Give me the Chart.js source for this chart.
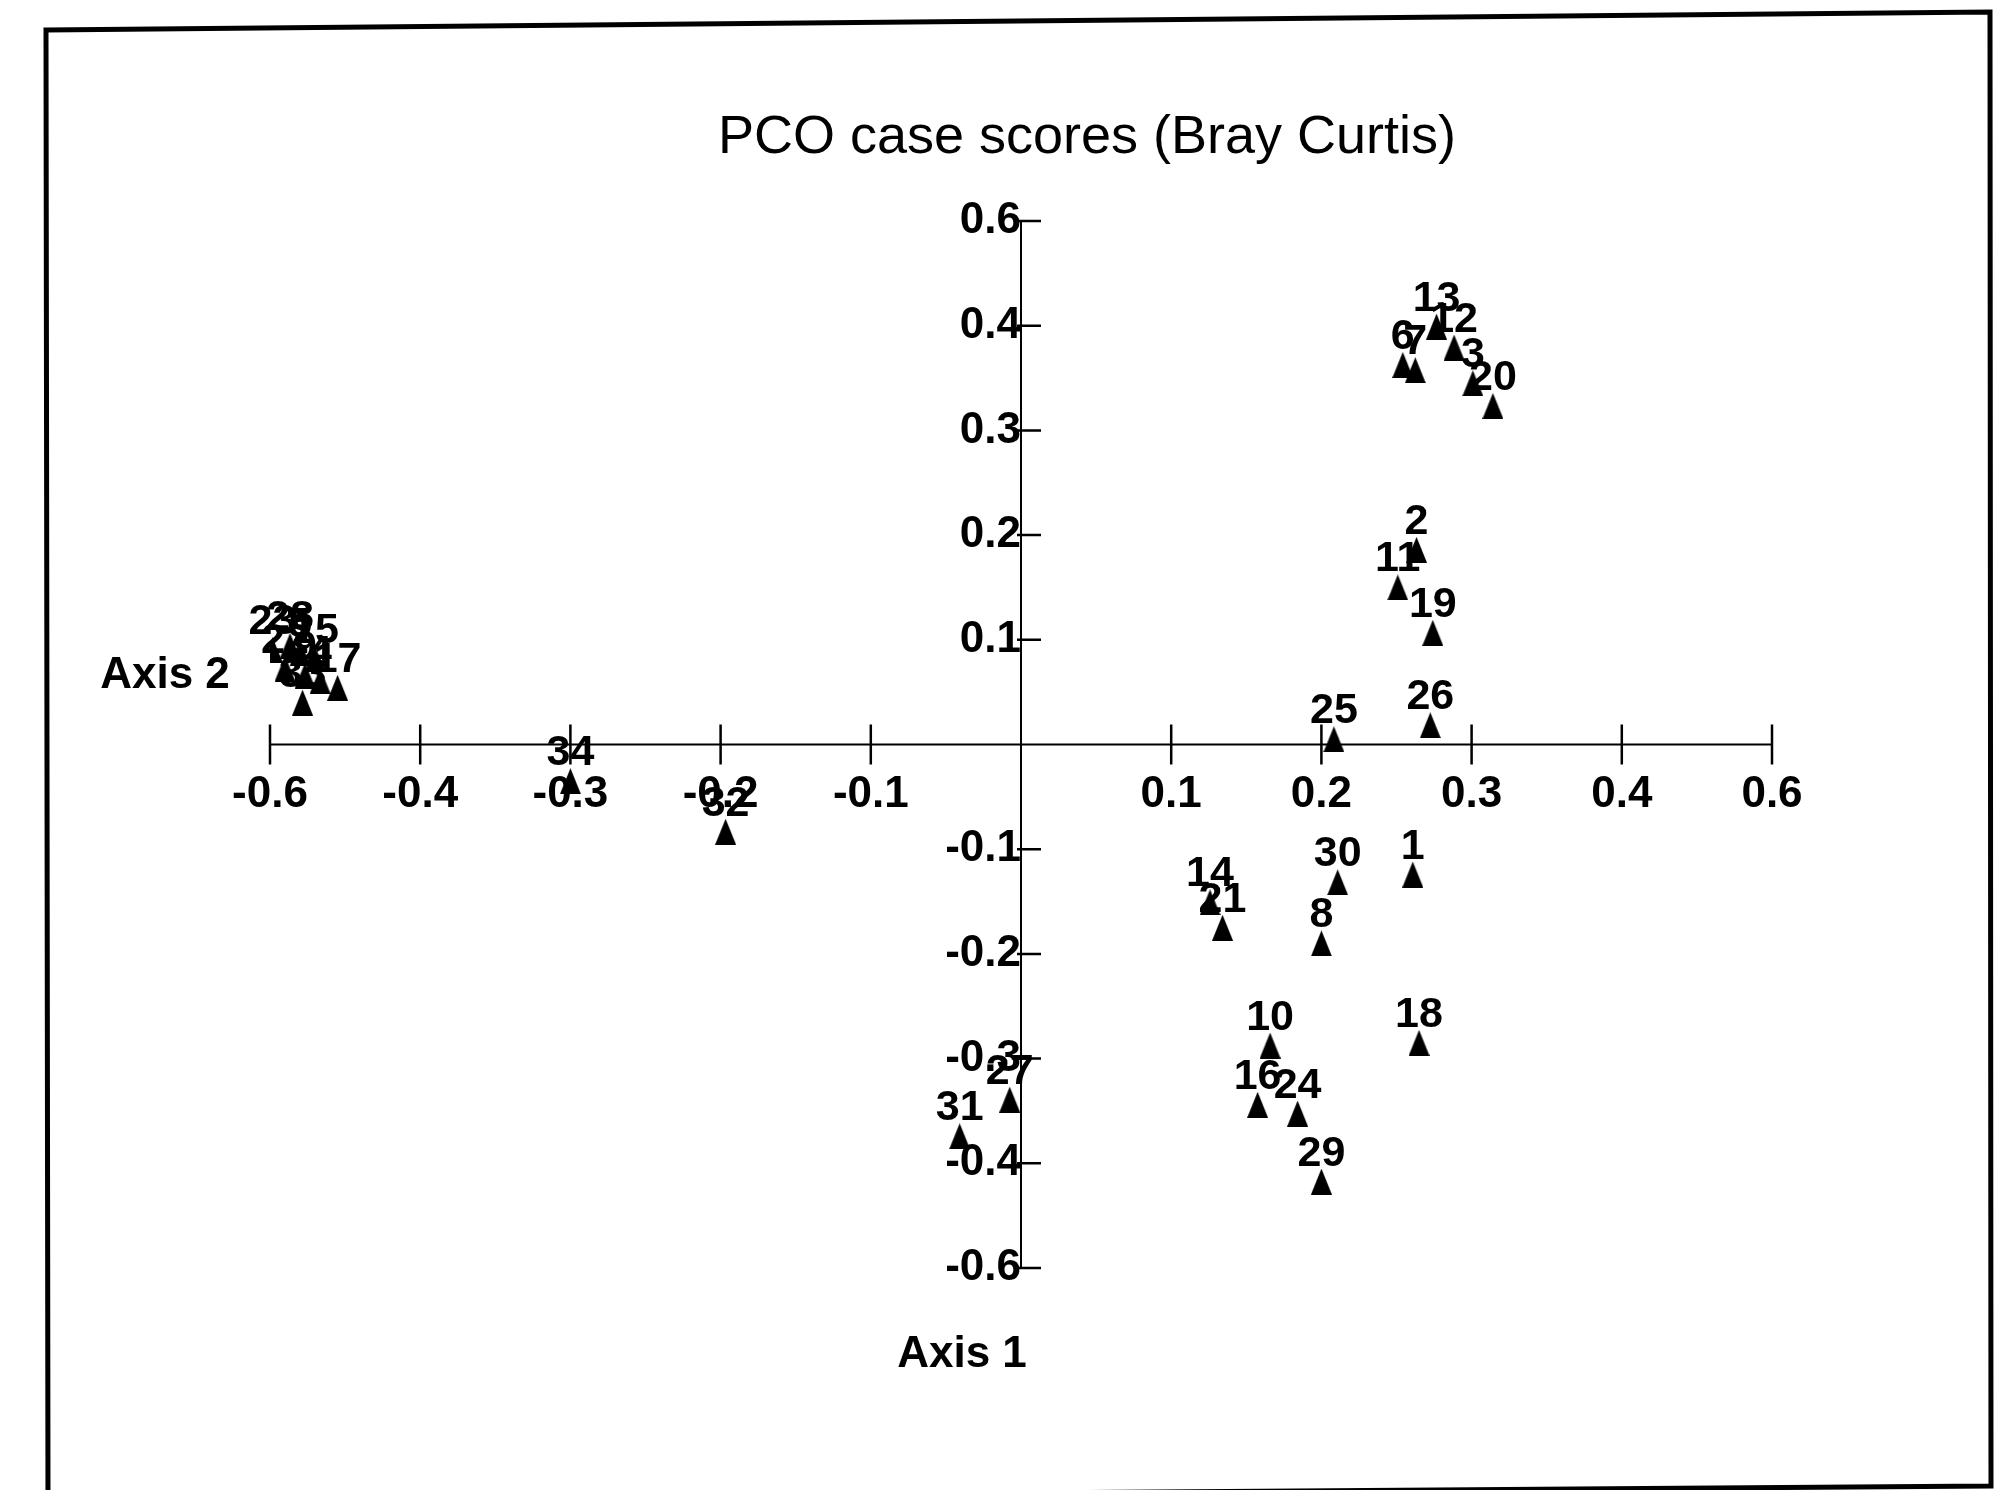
<!DOCTYPE html>
<html>
<head>
<meta charset="utf-8">
<title>PCO case scores (Bray Curtis)</title>
<script src="https://cdn.jsdelivr.net/npm/chart.js@4.4.1/dist/chart.umd.min.js"></script>
<style>
  html, body { margin: 0; padding: 0; background: #fff; }
  #wrap { width: 1999px; height: 1490px; }
</style>
</head>
<body>
<div id="wrap"><canvas id="pco" width="1999" height="1490"></canvas></div>
<script>
// case labels and their scores
const caseIds = ['6','7','13','12','3','20','2','11','19','26','25','14','21','30','1','8','10','18','16','24','29','27','31','34','32','23','28','5','15','22','9','4','33','17'];
const axis1Scores = [0.305,0.315,0.332,0.346,0.361,0.377,0.316,0.301,0.329,0.327,0.250,0.151,0.161,0.253,0.313,0.240,0.199,0.318,0.189,0.221,0.240,-0.009,-0.049,-0.360,-0.236,-0.598,-0.584,-0.576,-0.564,-0.588,-0.572,-0.560,-0.574,-0.546];
const axis2Scores = [0.435,0.429,0.479,0.455,0.414,0.388,0.223,0.180,0.128,0.022,0.006,-0.181,-0.210,-0.158,-0.149,-0.228,-0.345,-0.342,-0.413,-0.423,-0.501,-0.407,-0.449,-0.042,-0.100,0.108,0.113,0.105,0.098,0.087,0.079,0.073,0.048,0.065];

// ticks are every 0.12, the labels are truncated to one decimal like the original
const xTickValues = [-0.6,-0.48,-0.36,-0.24,-0.12,0,0.12,0.24,0.36,0.48,0.6];
const xTickLabels = ['-0.6','-0.4','-0.3','-0.2','-0.1','','0.1','0.2','0.3','0.4','0.6'];
const yTickValues = [-0.6,-0.48,-0.36,-0.24,-0.12,0,0.12,0.24,0.36,0.48,0.6];
const yTickLabels = ['-0.6','-0.4','-0.3','-0.2','-0.1','','0.1','0.2','0.3','0.4','0.6'];

const FONT = '"Liberation Sans", Arial, Helvetica, sans-serif';

function triangleMarker(w, h){
  const c = document.createElement('canvas');
  c.width = w; c.height = h;
  const g = c.getContext('2d');
  g.fillStyle = '#000';
  g.beginPath();
  g.moveTo(w/2, 0); g.lineTo(w, h); g.lineTo(0, h);
  g.closePath(); g.fill();
  return c;
}

// frame, title, axis lines, tick marks, axis names, point labels
const decor = {
  id: 'decor',
  beforeDraw(chart){
    const ctx = chart.ctx;
    ctx.save();
    ctx.fillStyle = '#fff';
    ctx.fillRect(0, 0, chart.width, chart.height);
    ctx.strokeStyle = '#000';
    ctx.lineWidth = 5;
    ctx.beginPath();
    ctx.moveTo(46, 30); ctx.lineTo(1990, 12); ctx.lineTo(1991, 1486); ctx.lineTo(48, 1500);
    ctx.closePath(); ctx.stroke();
    ctx.fillStyle = '#000';
    ctx.font = '54px ' + FONT;
    ctx.textAlign = 'center'; ctx.textBaseline = 'middle';
    ctx.fillText('PCO case scores (Bray Curtis)', 1087, 138);
    ctx.font = 'bold 44px ' + FONT;
    ctx.fillText('Axis 2', 165, 676);
    ctx.fillText('Axis 1', 962, 1355);
    ctx.restore();
  },
  beforeDatasetsDraw(chart){
    const {ctx, scales: {x, y}} = chart;
    const x0 = x.getPixelForValue(0), y0 = y.getPixelForValue(0);
    ctx.save();
    ctx.strokeStyle = '#000';
    ctx.lineWidth = 2;
    ctx.beginPath();
    ctx.moveTo(x.left, y0); ctx.lineTo(x.right, y0);
    ctx.moveTo(x0, y.top); ctx.lineTo(x0, y.bottom);
    ctx.stroke();
    ctx.lineWidth = 2.5;
    ctx.beginPath();
    xTickValues.forEach(v => {
      if (v === 0) return;
      const px = x.getPixelForValue(v);
      ctx.moveTo(px, y0 - 20); ctx.lineTo(px, y0 + 20);
    });
    yTickValues.forEach(v => {
      if (v === 0) return;
      const py = y.getPixelForValue(v);
      ctx.moveTo(x0 - 4, py); ctx.lineTo(x0 + 20, py);
    });
    ctx.stroke();
    ctx.restore();
  },
  afterDatasetsDraw(chart){
    const ctx = chart.ctx;
    const meta = chart.getDatasetMeta(0);
    ctx.save();
    ctx.fillStyle = '#000';
    ctx.font = 'bold 43px ' + FONT;
    ctx.textAlign = 'center'; ctx.textBaseline = 'alphabetic';
    meta.data.forEach((pt, i) => ctx.fillText(caseIds[i], pt.x, pt.y - 16));
    ctx.restore();
  }
};

function noPad(scale){
  scale.paddingLeft = scale.paddingRight = scale.paddingTop = scale.paddingBottom = 0;
}

new Chart(document.getElementById('pco'), {
  type: 'scatter',
  data: {
    datasets: [{
      label: 'cases',
      data: axis1Scores.map((v, i) => ({x: v, y: axis2Scores[i]})),
      pointStyle: triangleMarker(21, 26),
      pointRadius: 12,
      backgroundColor: '#000',
      borderColor: '#000'
    }]
  },
  options: {
    responsive: false,
    animation: false,
    layout: { padding: { left: 270, right: 227, top: 221, bottom: 222 } },
    plugins: { legend: { display: false }, title: { display: false }, tooltip: { enabled: false } },
    scales: {
      x: {
        type: 'linear', min: -0.6, max: 0.6,
        position: { y: 0 },
        afterBuildTicks: s => { s.ticks = xTickValues.map(v => ({value: v})); },
        afterFit: noPad,
        grid: { display: true, drawOnChartArea: false, drawTicks: false, color: 'rgba(0,0,0,0)' },
        border: { display: false },
        ticks: {
          autoSkip: false, maxRotation: 0, padding: 24, color: '#000',
          font: { family: FONT, size: 44, weight: 'bold' },
          callback: (v, i) => xTickLabels[i]
        }
      },
      y: {
        type: 'linear', min: -0.6, max: 0.6,
        position: { x: 0 },
        afterBuildTicks: s => { s.ticks = yTickValues.map(v => ({value: v})); },
        afterFit: noPad,
        grid: { display: true, drawOnChartArea: false, drawTicks: false, color: 'rgba(0,0,0,0)' },
        border: { display: false },
        ticks: {
          autoSkip: false, padding: 4, color: '#000',
          font: { family: FONT, size: 44, weight: 'bold' },
          callback: (v, i) => yTickLabels[i]
        }
      }
    }
  },
  plugins: [decor]
});
</script>
</body>
</html>
